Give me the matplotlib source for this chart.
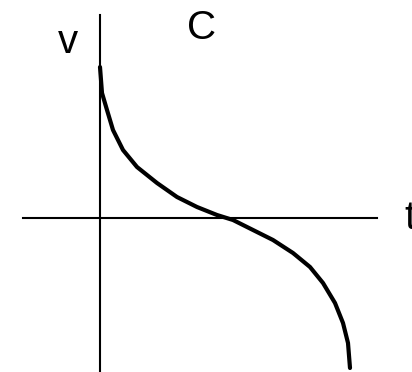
import matplotlib.pyplot as plt

# curve (origin at the axes crossing)
t = [0, 2, 7, 13, 23, 37, 57, 77, 97, 117, 133, 153, 173, 193, 210, 223, 235, 243, 248, 250]
v = [151, 125, 108, 88, 68, 51, 35, 21, 11, 3, -2, -12, -22, -35, -49, -65, -85, -105, -125, -150]

fig = plt.figure(figsize=(4.12, 3.72), dpi=100)
ax = fig.add_axes([0, 0, 1, 1])
ax.set_xlim(-100, 312)
ax.set_ylim(-154, 218)
ax.axis("off")

# axes lines
ax.plot([-77, 277], [0, 0], color="black", lw=1.5)
ax.plot([0, 0], [-160, 203], color="black", lw=1.5)

ax.plot(t, v, color="black", lw=3, solid_joinstyle="round", solid_capstyle="round")

font = dict(family="Liberation Sans", fontsize=29, color="black")
ax.text(-32, 176, "v", ha="center", va="center", **font)
ax.text(102, 190, "C", ha="center", va="center", **font)
ax.text(304, 0, "t", ha="left", va="center", **font)

fig.savefig("out.png", dpi=100)
